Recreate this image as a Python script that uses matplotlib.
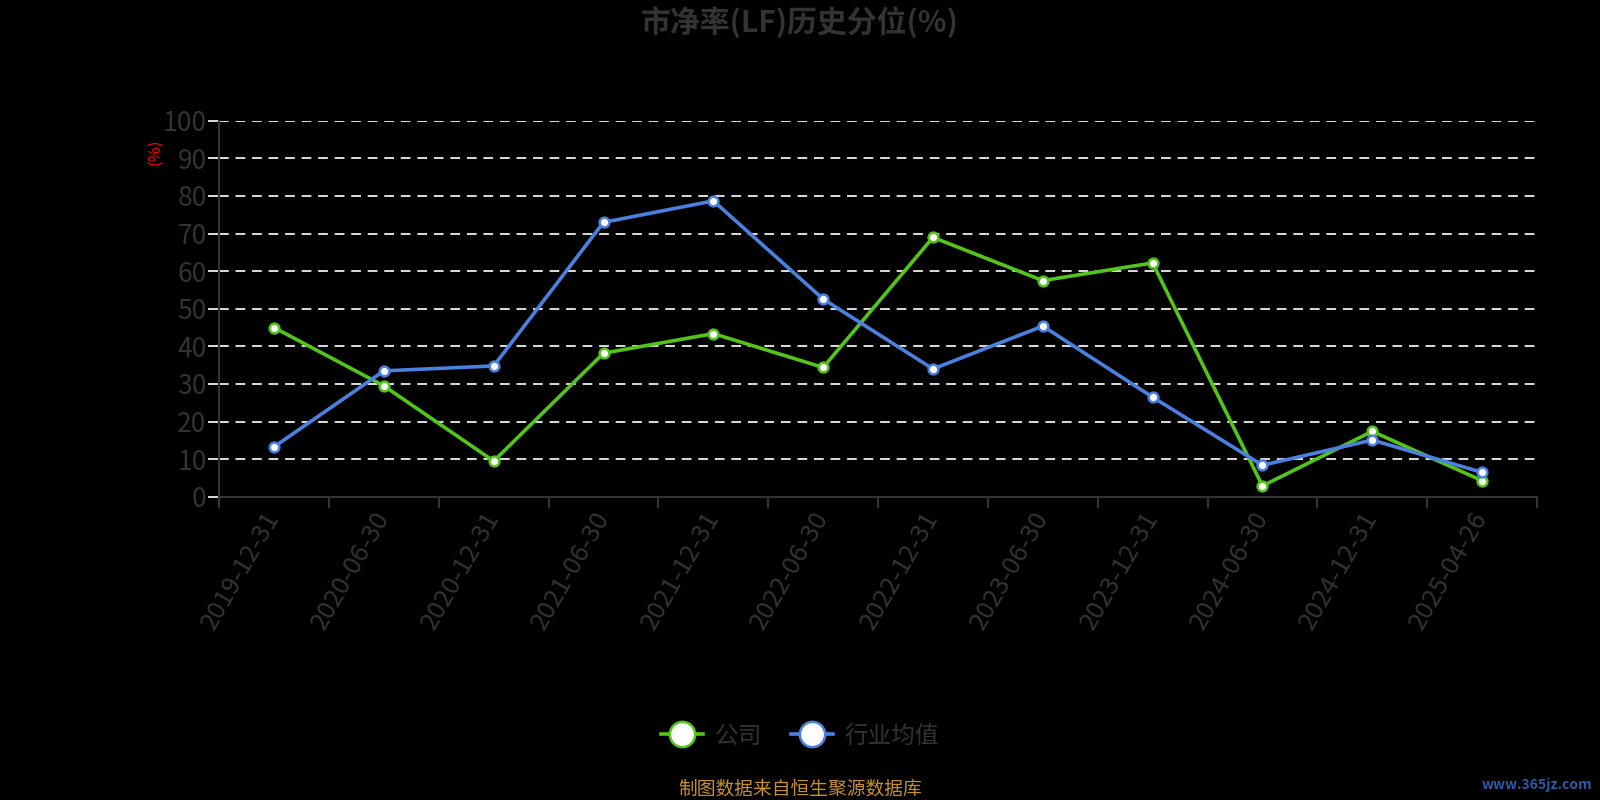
import matplotlib
matplotlib.use("Agg")
import matplotlib.pyplot as plt
import numpy as np

plt.rcParams['font.family'] = ['Noto Sans CJK SC', 'DejaVu Sans']

# data
dates = ["2019-12-31", "2020-06-30", "2020-12-31", "2021-06-30", "2021-12-31", "2022-06-30",
         "2022-12-31", "2023-06-30", "2023-12-31", "2024-06-30", "2024-12-31", "2025-04-26"]
company = [45.0, 29.5, 9.5, 38.2, 43.4, 34.4, 69.0, 57.5, 62.2, 2.9, 17.4, 4.3]
industry = [13.3, 33.5, 34.8, 73.0, 78.7, 52.6, 34.0, 45.4, 26.5, 8.4, 15.1, 6.5]
series_names = ["公司", "行业均值"]

GREEN = "#52c41a"
BLUE = "#4a80e0"
GRAY = "#333333"

fig = plt.figure(figsize=(16, 8), dpi=100, facecolor="black")
ax = fig.add_axes([0.137, 0.379, 0.8236, 0.470])
ax.set_facecolor("black")

x = np.arange(len(dates))
ax.plot(x, company, color=GREEN, lw=2.6, marker="o", ms=7, mfc="white", mec=GREEN, mew=1.8,
        label=series_names[0], zorder=3)
ax.plot(x, industry, color=BLUE, lw=2.6, marker="o", ms=7, mfc="white", mec=BLUE, mew=1.8,
        label=series_names[1], zorder=4)

ax.set_xlim(-0.5, len(dates) - 0.5)
ax.set_ylim(0, 100)
ax.set_yticks(np.arange(0, 101, 10))
ax.yaxis.grid(True, color="#dddddd", linestyle=(0, (5, 3.5)), lw=1.4)
ax.set_axisbelow(True)

ax.set_xticks(x)
ax.set_xticklabels(dates, rotation=60, ha="right", va="center", rotation_mode="anchor")
ax.set_xticks(np.arange(-0.5, len(dates), 1), minor=True)
ax.tick_params(axis="x", which="major", length=0, pad=12, labelsize=18.5, labelcolor=GRAY)
ax.tick_params(axis="x", which="minor", length=8, width=1.5, color=GRAY)
ax.tick_params(axis="y", length=8, width=1.4, color="#dddddd", labelsize=19, labelcolor=GRAY, pad=1)

for s in ["top", "right"]:
    ax.spines[s].set_visible(False)
for s in ["left", "bottom"]:
    ax.spines[s].set_color(GRAY)
    ax.spines[s].set_linewidth(1.5)

fig.text(0.097, 0.81, "(%)", color="red", fontsize=12, rotation=90, ha="center", va="center")

fig.text(0.5, 0.972, "市净率(LF)历史分位(%)", color=GRAY, fontsize=21.5, fontweight="bold",
         ha="center", va="center")

leg = fig.legend(loc="center", bbox_to_anchor=(0.5, 1 - 736 / 800), ncol=2, frameon=False,
                 fontsize=17, markerscale=2.6, handlelength=1.8, columnspacing=1.2,
                 handletextpad=0.5)
for t in leg.get_texts():
    t.set_color(GRAY)

fig.text(0.5, 1 - 789 / 800, "制图数据来自恒生聚源数据库", color="#c8902a", fontsize=13.5,
         ha="center", va="center")
fig.text(0.995, 1 - 785 / 800, "www.365jz.com", color="#2d5aa8", fontsize=10,
         fontweight="bold", ha="right", va="center")

fig.savefig("out.png", dpi=100, facecolor="black")
